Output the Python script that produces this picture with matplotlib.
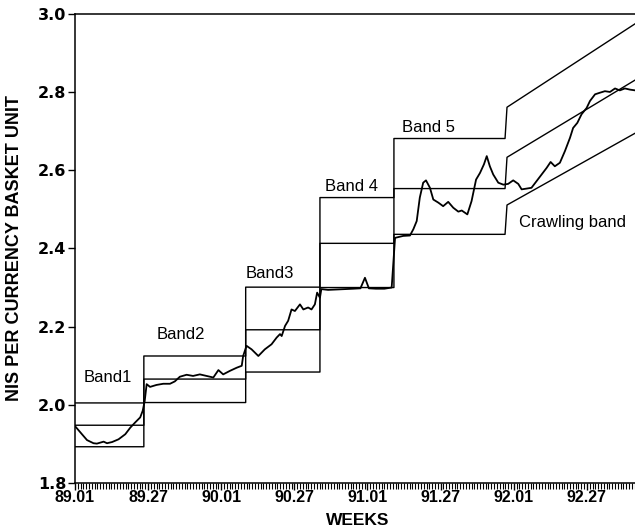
import matplotlib
matplotlib.use("Agg")
import matplotlib.pyplot as plt
from matplotlib.ticker import MultipleLocator

# weeks counted from 89.01 (week 0), 52 weeks per year
tick_weeks = [0, 26, 52, 78, 104, 130, 156, 182]
tick_labels = ["89.01", "89.27", "90.01", "90.27", "91.01", "91.27", "92.01", "92.27"]

# fixed bands: start week, upper / central / lower rate
band_start = [0, 24.5, 60.7, 87.1, 113.4]
band_upper = [2.005, 2.125, 2.301, 2.530, 2.681]
band_mid = [1.948, 2.066, 2.192, 2.413, 2.553]
band_lower = [1.893, 2.006, 2.084, 2.300, 2.436]

# crawling band: jump week, first and last week, upper / central / lower at both ends
crawl_jump = 152.9
crawl_weeks = [153.6, 199.5]
crawl_upper = [2.761, 2.976]
crawl_mid = [2.633, 2.832]
crawl_lower = [2.511, 2.696]

# weekly NIS / basket rate
rate_week = [0, 2.5, 4.3, 6.6, 7.8, 10.2, 11.4, 13.2, 15.5, 17.9, 19.7, 21.4, 23.2, 24.1, 24.8,
             25.5, 26.7, 29, 31.4, 33.8, 35.5, 37.3, 39.7, 42, 44.4, 46.8, 49.2, 51, 52.7, 55.1,
             57.5, 59.3, 59.8, 61,
             62.8, 65.2, 67.5, 69.9, 71.7, 72.9, 73.5, 74.7, 75.8, 77, 78.2, 80, 81.2, 82.9, 84.1,
             85.3, 86.1, 87.1,
             87.6, 90, 93, 96, 99, 101.5, 103.1, 104.5, 107, 110, 112.6,
             113.8, 116.7, 119.1, 120.3, 121.5, 122.6, 123.8, 124.8, 126.2, 127.4, 129.2, 130.9,
             132.7, 134.5, 136.3, 137.5, 139.5, 141, 142.6, 144, 145.4, 146.4, 147.5, 148.7, 150.5,
             152.3,
             154, 155.8, 157.6, 158.8, 160.6, 162.3, 164.1, 165.9, 167.7, 169.1, 170.6, 172.4,
             174.2, 176, 177.1, 178.6, 180.1, 181.9, 183.1, 184.9, 186.6, 188.4, 190.2, 192,
             193.7, 195.5, 197.3, 199.2]
rate_value = [1.946, 1.925, 1.910, 1.902, 1.901, 1.906, 1.902, 1.905, 1.912, 1.925, 1.942, 1.955,
              1.968, 1.985, 2.010,
              2.053, 2.046, 2.051, 2.054, 2.054, 2.060, 2.072, 2.077, 2.074, 2.078, 2.074, 2.070,
              2.089, 2.078, 2.087, 2.095, 2.100, 2.125, 2.151,
              2.142, 2.125, 2.142, 2.155, 2.172, 2.181, 2.176, 2.202, 2.215, 2.244, 2.240, 2.257,
              2.244, 2.249, 2.244, 2.257, 2.287, 2.274,
              2.296, 2.294, 2.295, 2.296, 2.297, 2.298, 2.325, 2.298, 2.297, 2.297, 2.300,
              2.427, 2.432, 2.433, 2.449, 2.470, 2.530, 2.568, 2.574, 2.555, 2.525, 2.517, 2.508,
              2.519, 2.504, 2.494, 2.497, 2.487, 2.521, 2.576, 2.593, 2.615, 2.636, 2.610, 2.589,
              2.568, 2.563,
              2.565, 2.574, 2.565, 2.551, 2.553, 2.555, 2.572, 2.589, 2.606, 2.621, 2.610, 2.619,
              2.649, 2.683, 2.708, 2.721, 2.743, 2.759, 2.777, 2.794, 2.798, 2.802, 2.800, 2.809,
              2.804, 2.809, 2.806, 2.804]

labels = ["Band1", "Band2", "Band3", "Band 4", "Band 5", "Crawling band"]
label_x = [11.6, 37.7, 69.3, 98.4, 125.8, 177.0]
label_y = [2.070, 2.181, 2.337, 2.559, 2.710, 2.466]


def band_line(levels, crawl):
    # step through the fixed bands, then the crawling segment
    xs, ys = [], []
    ends = band_start[1:] + [crawl_jump]
    for s, e, v in zip(band_start, ends, levels):
        xs += [s, e]
        ys += [v, v]
    xs += crawl_weeks
    ys += crawl
    return xs, ys


plt.rcParams['font.family'] = ['Liberation Sans', 'DejaVu Sans']
fig = plt.figure(figsize=(6.35, 5.28), dpi=100)
ax = fig.add_axes([0.118, 0.085, 0.882, 0.889])

for lev, cr in [(band_upper, crawl_upper), (band_mid, crawl_mid), (band_lower, crawl_lower)]:
    x, y = band_line(lev, cr)
    ax.plot(x, y, color="black", lw=1.0)

ax.plot(rate_week, rate_value, color="black", lw=1.3)

for t, x, y in zip(labels, label_x, label_y):
    ax.text(x, y, t, ha="center", va="center", fontsize=12)

ax.set_xlim(0, 199.1)
ax.set_ylim(1.8, 3.0)
ax.set_xticks(tick_weeks)
ax.set_xticklabels(tick_labels, fontsize=11.5, fontweight="bold")
ax.xaxis.set_minor_locator(MultipleLocator(1))
ax.yaxis.set_major_locator(MultipleLocator(0.2))
ax.yaxis.set_major_formatter(plt.FormatStrFormatter("%.1f"))
for lab in ax.get_yticklabels():
    lab.set_fontfamily("DejaVu Sans")
    lab.set_fontsize(11.5)
    lab.set_fontweight("bold")
ax.tick_params(axis="x", which="major", length=5, width=1, pad=0)
ax.tick_params(axis="x", which="minor", length=4, width=0.8)
ax.tick_params(axis="y", length=5, width=1, pad=1)
ax.spines["right"].set_visible(False)
for s in ["left", "top", "bottom"]:
    ax.spines[s].set_linewidth(1.1)

ax.set_xlabel("WEEKS", fontsize=12.5, fontweight="bold")
ax.set_ylabel("NIS PER CURRENCY BASKET UNIT", fontsize=13, fontweight="bold")
# label positions in axes fractions (axes is 560 x 469 px)
ax.yaxis.set_label_coords(-60 / 560, 0.5)
ax.xaxis.set_label_coords(0.505, -37 / 469)
ax.xaxis.label.set_va("center")
ax.yaxis.label.set_va("center")
ax.yaxis.label.set_ha("center")

fig.savefig("out.png", dpi=100)
